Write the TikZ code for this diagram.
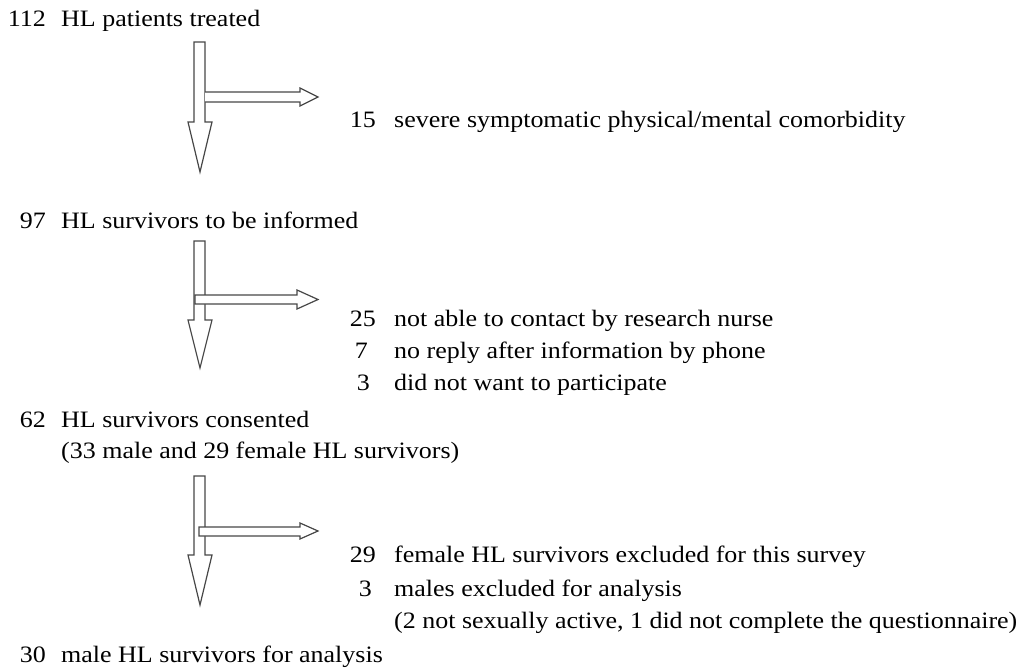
\documentclass[tikz,border=0pt]{standalone}
\usepackage{fontspec}
\setmainfont[FakeStretch=1.105]{Liberation Serif}
\begin{document}
\begin{tikzpicture}[x=1pt,y=-1pt,
  txt/.style={anchor=base west, inner sep=0pt, font=\fontsize{23.5}{28}\selectfont},
  num/.style={anchor=base east, inner sep=0pt, font=\fontsize{23.5}{28}\selectfont},
  blockarrow/.style={draw=black!72, fill=white, line width=1.2pt, line join=miter}]
\useasboundingbox (0,0) rectangle (1017,669);
% block arrows, first step
\draw[blockarrow] (194,42) -- (205,42) -- (205,122) -- (212,122) -- (200,172) -- (188,122) -- (194,122) -- cycle;
\fill[white] (205.6,92.6) rectangle (300,101.4);
\draw[blockarrow] (205,92) -- (300,92) -- (300,88) -- (318,97) -- (300,106) -- (300,102) -- (205,102);
% second step
\draw[blockarrow] (194,241) -- (205,241) -- (205,320) -- (212,320) -- (200,368) -- (188,320) -- (194,320) -- cycle;
\draw[blockarrow] (195,295) -- (297,295) -- (297,290) -- (318,299.5) -- (297,309) -- (297,304) -- (195,304) -- cycle;
% third step
\draw[blockarrow] (194,476) -- (205,476) -- (205,555) -- (212,555) -- (200,605) -- (188,555) -- (194,555) -- cycle;
\draw[blockarrow] (199,527) -- (300,527) -- (300,523) -- (318,531) -- (300,539) -- (300,536) -- (199,536) -- cycle;
% main column
\node[num] (n1num) at (46,27) {112};
\node[txt] (n1) at (61,27) {HL patients treated};
\node[num] (n2num) at (46,228) {97};
\node[txt] (n2) at (61,228) {HL survivors to be informed};
\node[num] (n3num) at (46,427) {62};
\node[txt] (n3) at (61,427) {HL survivors consented};
\node[txt] (n3b) at (61,458) {(33 male and 29 female HL survivors)};
\node[num] (n4num) at (46,662) {30};
\node[txt] (n4) at (61,662) {male HL survivors for analysis};
% exclusions
\node[num] (e1num) at (376,127) {15};
\node[txt] (e1) at (394,127) {severe symptomatic physical/mental comorbidity};
\node[num] (e2anum) at (376,326) {25};
\node[txt] (e2a) at (394,326) {not able to contact by research nurse};
\node[num] (e2bnum) at (368,358) {7};
\node[txt] (e2b) at (394,358) {no reply after information by phone};
\node[num] (e2cnum) at (370,390) {3};
\node[txt] (e2c) at (394,390) {did not want to participate};
\node[num] (e3anum) at (376,562) {29};
\node[txt] (e3a) at (394,562) {female HL survivors excluded for this survey};
\node[num] (e3bnum) at (372,596) {3};
\node[txt] (e3b) at (394,596) {males excluded for analysis};
\node[txt] (e3c) at (394,628) {(2 not sexually active, 1 did not complete the questionnaire)};
\end{tikzpicture}
\end{document}
